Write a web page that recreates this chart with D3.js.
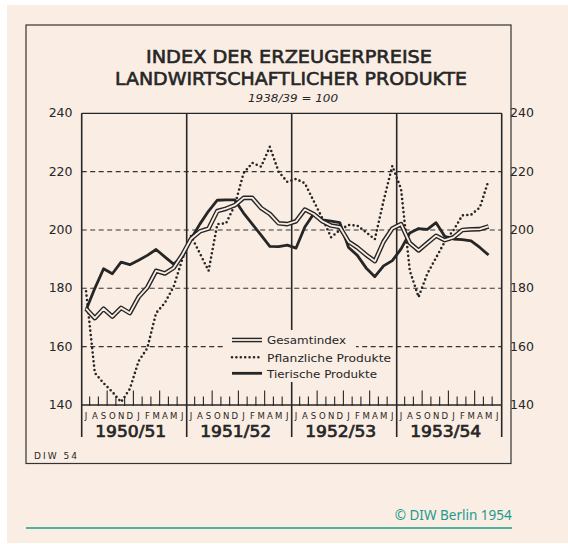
<!DOCTYPE html>
<html>
<head>
<meta charset="utf-8">
<script src="https://cdnjs.cloudflare.com/ajax/libs/d3/7.8.5/d3.min.js"></script>
<style>
body { margin: 0; background: #fff; }
svg text { font-family: "DejaVu Sans", sans-serif; fill: #262626; }
</style>
</head>
<body>
<svg class="chart" width="568" height="544"></svg>
<script>
// data, monthly Jul 1950 .. May 1954
var months = ['J','A','S','O','N','D','J','F','M','A','M','J'];
var years = ['1950/51', '1951/52', '1952/53', '1953/54'];
var yTicks = [140, 160, 180, 200, 220, 240];
var gridTicks = [160, 180, 200, 220];

var gesamt = [173, 169.8, 173, 170.3, 173.3, 171.5, 177, 180.3, 186, 185.1, 187, 191.5,
              197, 199.5, 200.5, 206.5, 207.3, 208.5, 211, 211, 207.5, 205.5, 202.3, 202,
              203, 207, 205.5, 203, 201.5, 201, 196, 194, 191.5, 189.3, 196, 200.5,
              202, 195.5, 193, 195.5, 198, 196.5, 197.5, 200, 200.2, 200.3, 201.2];
var pflanz = [179, 151, 147.5, 144.5, 141, 145.5, 155, 159.5, 171.5, 175, 180.5, 190,
              198, 192, 186, 202, 202.3, 208.5, 219.5, 223, 221.7, 228.5, 220, 216.5,
              217.5, 216, 210, 204, 197.5, 200, 201.7, 201.5, 199.2, 196.8, 210, 222,
              214, 186, 177, 185, 190.5, 196, 200, 205, 205.2, 207.7, 217];
var tier = [172.6, 180, 186.7, 185, 189, 188.1, 189.6, 191.3, 193.3, 190.8, 188.3, 190.8,
            197, 202, 206.5, 210.2, 210.3, 210.3, 205.8, 202, 198.2, 194.4, 194.3, 194.8,
            193.8, 201, 205.5, 203.5, 203, 202.5, 194, 191.3, 187, 184, 187.7, 189.5,
            193.5, 199, 200.5, 200.2, 202.5, 197.8, 196.9, 196.7, 196.3, 194, 191.4];
var legendNames = ['Gesamtindex', 'Pflanzliche Produkte', 'Tierische Produkte'];

var cream = '#faede4';
var ink = '#262626';

var svg = d3.select('.chart');

svg.append('rect')
  .attr('x', 7).attr('y', 5)
  .attr('width', 561).attr('height', 538)
  .attr('fill', cream);

// outer frame
svg.append('rect')
  .attr('x', 26).attr('y', 25)
  .attr('width', 485).attr('height', 438.5)
  .attr('fill', 'none')
  .attr('stroke', '#333')
  .attr('stroke-width', 1.2);

var x = d3.scaleLinear().domain([0, 48]).range([81.7, 501.7]);
var y = d3.scaleLinear().domain([140, 240]).range([405, 113.3]);

//Title
svg.append('text')
  .attr('x', 289).attr('y', 63.3)
  .attr('text-anchor', 'middle')
  .attr('font-size', 17.5)
  .attr('stroke', ink).attr('stroke-width', 0.6)
  .attr('textLength', 286).attr('lengthAdjust', 'spacingAndGlyphs')
  .text('INDEX DER ERZEUGERPREISE');
svg.append('text')
  .attr('x', 291).attr('y', 85)
  .attr('text-anchor', 'middle')
  .attr('font-size', 17.5)
  .attr('stroke', ink).attr('stroke-width', 0.6)
  .attr('textLength', 352).attr('lengthAdjust', 'spacingAndGlyphs')
  .text('LANDWIRTSCHAFTLICHER PRODUKTE');
svg.append('text')
  .attr('x', 293).attr('y', 101.5)
  .attr('text-anchor', 'middle')
  .attr('font-size', 11).attr('font-style', 'italic')
  .attr('textLength', 90).attr('lengthAdjust', 'spacingAndGlyphs')
  .text('1938/39 = 100');

var chart = svg.append('g');

// dashed grid
chart.selectAll('.grid')
  .data(gridTicks)
  .enter().append('line')
  .attr('class', 'grid')
  .attr('x1', x(0)).attr('x2', x(48))
  .attr('y1', function(d) { return y(d); })
  .attr('y2', function(d) { return y(d); })
  .attr('stroke', '#333')
  .attr('stroke-width', 1.1)
  .attr('stroke-dasharray', '5,3.5');

// top and bottom lines
chart.selectAll('.hline')
  .data([140, 240])
  .enter().append('line')
  .attr('x1', x(0)).attr('x2', x(48))
  .attr('y1', function(d) { return y(d); })
  .attr('y2', function(d) { return y(d); })
  .attr('stroke', ink)
  .attr('stroke-width', 1.3);

// axes and year separators
chart.selectAll('.vline')
  .data([0, 12, 24, 36, 48])
  .enter().append('line')
  .attr('x1', function(d) { return x(d); })
  .attr('x2', function(d) { return x(d); })
  .attr('y1', y(240)).attr('y2', 437)
  .attr('stroke', ink)
  .attr('stroke-width', 1.6);

// month ticks, taller every quarter
var tickIdx = d3.range(1, 48).filter(function(d) { return d % 12 != 0; });
chart.selectAll('.mtick')
  .data(tickIdx)
  .enter().append('line')
  .attr('x1', function(d) { return x(d) - 0.8; })
  .attr('x2', function(d) { return x(d) - 0.8; })
  .attr('y1', function(d) { return d % 3 == 0 ? 390.5 : 396.5; })
  .attr('y2', 406)
  .attr('stroke', ink)
  .attr('stroke-width', 1.1);

// month letters
var monthData = d3.range(48);
chart.selectAll('.mlabel')
  .data(monthData)
  .enter().append('text')
  .attr('x', function(d) { return x(d + 0.5); })
  .attr('y', 418.5)
  .attr('text-anchor', 'middle')
  .attr('font-size', 8.5)
  .text(function(d) { return months[d % 12]; });

chart.selectAll('.ylabel')
  .data(years)
  .enter().append('text')
  .attr('x', function(d, i) { return x(i * 12 + 6) - 3.5; })
  .attr('y', 436.7)
  .attr('text-anchor', 'middle')
  .attr('font-size', 16)
  .attr('stroke', ink).attr('stroke-width', 0.7)
  .attr('textLength', 71).attr('lengthAdjust', 'spacingAndGlyphs')
  .text(function(d) { return d; });

// y labels both sides
chart.selectAll('.yl')
  .data(yTicks)
  .enter().append('text')
  .attr('x', 72.5)
  .attr('y', function(d) { return y(d) + 4; })
  .attr('text-anchor', 'end')
  .attr('font-size', 12.5)
  .text(function(d) { return d; });
chart.selectAll('.yr')
  .data(yTicks)
  .enter().append('text')
  .attr('x', 510)
  .attr('y', function(d) { return y(d) + 4; })
  .attr('font-size', 12.5)
  .text(function(d) { return d; });

// legend background hides the grid
chart.append('rect')
  .attr('x', 223).attr('y', 330)
  .attr('width', 133).attr('height', 52)
  .attr('fill', cream);

var line = d3.line()
  .x(function(d, i) { return x(i + 0.5); })
  .y(function(d) { return y(d); });

function drawDouble(g, path) {
  g.append('path').attr('d', path)
    .attr('fill', 'none').attr('stroke', ink)
    .attr('stroke-width', 4.6).attr('stroke-linejoin', 'round');
  g.append('path').attr('d', path)
    .attr('fill', 'none').attr('stroke', cream)
    .attr('stroke-width', 1.8).attr('stroke-linejoin', 'round');
}
function drawDots(g, path) {
  g.append('path').attr('d', path)
    .attr('fill', 'none').attr('stroke', ink)
    .attr('stroke-width', 2.6)
    .attr('stroke-linecap', 'round')
    .attr('stroke-dasharray', '0,4.4');
}
function drawSolid(g, path) {
  g.append('path').attr('d', path)
    .attr('fill', 'none').attr('stroke', ink)
    .attr('stroke-width', 2.8).attr('stroke-linejoin', 'round');
}

var lines = chart.append('g');
drawDots(lines, line(pflanz));
drawSolid(lines, line(tier));
drawDouble(lines, line(gesamt));

//Legend
var legY = [340, 357.3, 373.3];
var legLen = [79, 124, 110];
var drawers = [drawDouble, drawDots, drawSolid];
var leg = chart.append('g');
legendNames.forEach(function(name, i) {
  drawers[i](leg, 'M232,' + legY[i] + 'H262');
  leg.append('text')
    .attr('x', 267).attr('y', legY[i] + 4.2)
    .attr('font-size', 11)
    .attr('textLength', legLen[i]).attr('lengthAdjust', 'spacingAndGlyphs')
    .text(name);
});

svg.append('text')
  .attr('x', 34).attr('y', 459.3)
  .attr('font-size', 9)
  .attr('textLength', 43).attr('lengthAdjust', 'spacing')
  .text('DIW 54');

svg.append('text')
  .attr('x', 511.7).attr('y', 520)
  .attr('text-anchor', 'end')
  .attr('font-size', 13.5)
  .style('font-family', '"Noto Sans", sans-serif')
  .style('fill', '#1a9b8c')
  .text('\u00a9 DIW Berlin 1954');

svg.append('line')
  .attr('x1', 26).attr('x2', 512)
  .attr('y1', 528).attr('y2', 528)
  .attr('stroke', '#1a9b8c')
  .attr('stroke-width', 1.5);
</script>
</body>
</html>
